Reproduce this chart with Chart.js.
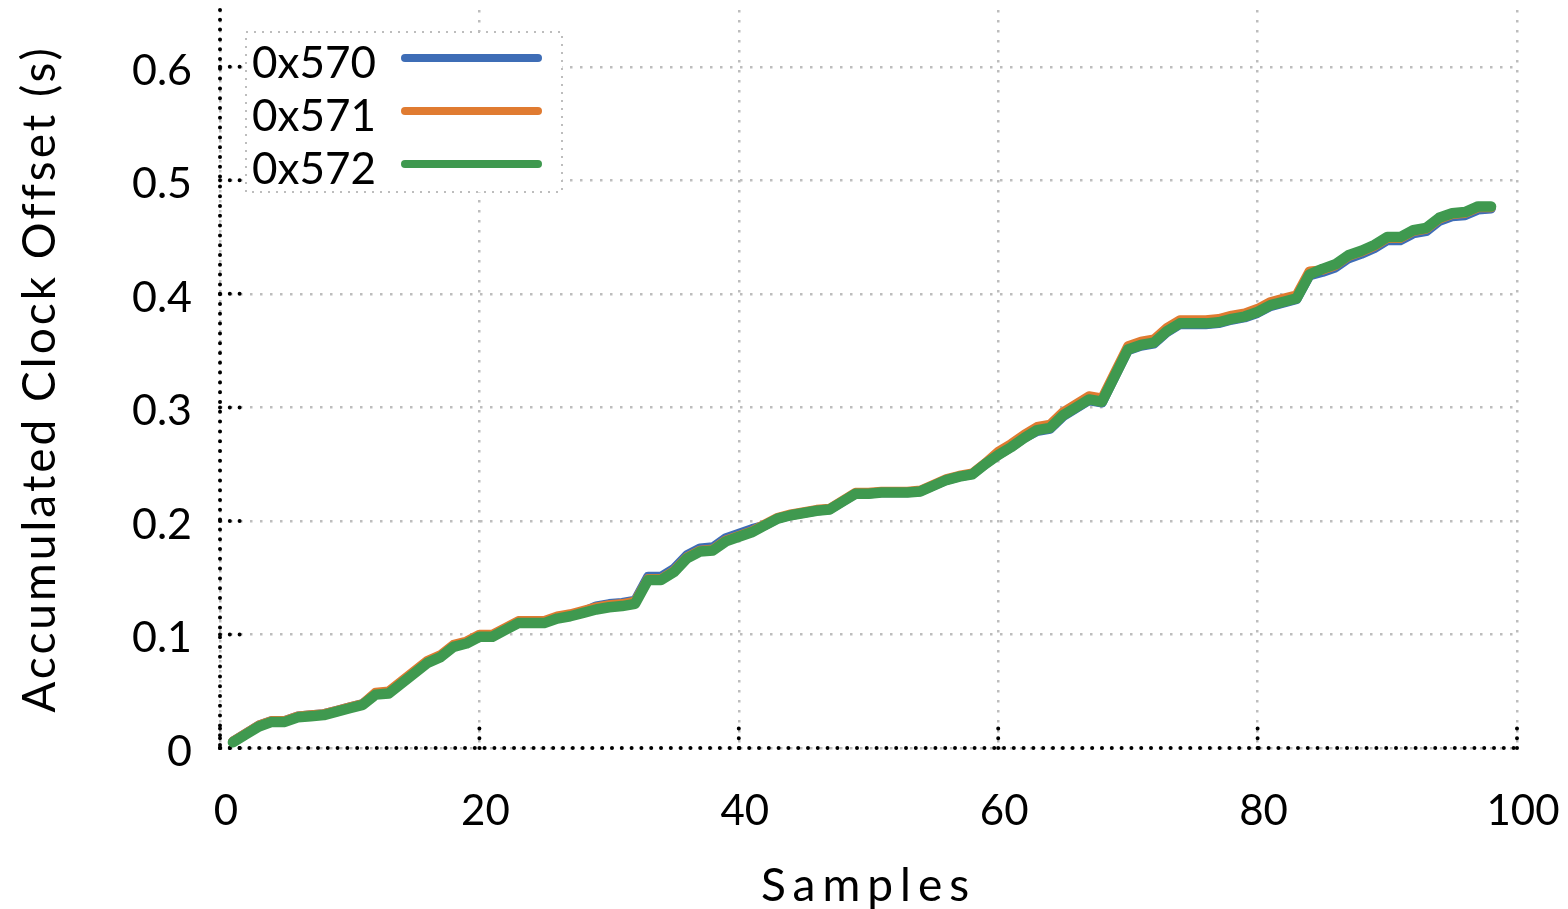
<!DOCTYPE html>
<html><head><meta charset="utf-8">
<script src="https://cdn.jsdelivr.net/npm/chart.js@4.4.0/dist/chart.umd.min.js"></script>
<style>html,body{margin:0;padding:0;background:#fff;}#wrap{width:1568px;height:909px;}</style>
</head><body><div id="wrap"><canvas id="c" width="1568" height="909"></canvas></div>
<script>
const samples = [1,2,3,4,5,6,7,8,9,10,11,12,13,14,15,16,17,18,19,20,21,22,23,24,25,26,27,28,29,30,31,32,33,34,35,36,37,38,39,40,41,42,43,44,45,46,47,48,49,50,51,52,53,54,55,56,57,58,59,60,61,62,63,64,65,66,67,68,69,70,71,72,73,74,75,76,77,78,79,80,81,82,83,84,85,86,87,88,89,90,91,92,93,94,95,96,97,98];
const series570 = [
0.006,0.013,0.020,0.024,0.024,0.028,0.029,0.030,0.033,0.036,
0.039,0.048,0.049,0.058,0.067,0.076,0.081,0.090,0.093,0.099,
0.099,0.105,0.111,0.111,0.111,0.115,0.117,0.120,0.125,0.127,
0.128,0.130,0.151,0.151,0.158,0.170,0.176,0.177,0.185,0.189,
0.193,0.196,0.202,0.205,0.207,0.209,0.210,0.217,0.224,0.224,
0.225,0.225,0.225,0.226,0.231,0.236,0.239,0.241,0.250,0.258,
0.265,0.273,0.279,0.281,0.292,0.299,0.306,0.304,0.327,0.350,
0.354,0.356,0.366,0.373,0.373,0.373,0.374,0.377,0.379,0.383,
0.389,0.392,0.395,0.416,0.419,0.423,0.431,0.435,0.440,0.447,
0.447,0.453,0.455,0.464,0.468,0.469,0.474,0.475];
const series571 = [
0.006,0.013,0.020,0.024,0.024,0.028,0.029,0.030,0.033,0.036,
0.039,0.049,0.050,0.059,0.068,0.077,0.082,0.091,0.094,0.100,
0.100,0.106,0.112,0.112,0.112,0.116,0.118,0.121,0.124,0.126,
0.127,0.129,0.149,0.149,0.156,0.168,0.174,0.175,0.183,0.187,
0.191,0.197,0.203,0.206,0.208,0.210,0.211,0.218,0.225,0.225,
0.226,0.226,0.226,0.227,0.232,0.237,0.240,0.242,0.251,0.261,
0.268,0.276,0.283,0.285,0.296,0.303,0.310,0.308,0.331,0.354,
0.358,0.360,0.370,0.377,0.377,0.377,0.378,0.381,0.383,0.387,
0.393,0.396,0.399,0.420,0.421,0.425,0.433,0.437,0.442,0.449,
0.449,0.455,0.457,0.466,0.470,0.471,0.476,0.476];
const series572 = [
0.005,0.012,0.019,0.023,0.023,0.027,0.028,0.029,0.032,0.035,
0.038,0.047,0.048,0.057,0.066,0.075,0.080,0.089,0.092,0.098,
0.098,0.104,0.110,0.110,0.110,0.114,0.116,0.119,0.122,0.124,
0.125,0.127,0.148,0.148,0.155,0.167,0.173,0.174,0.182,0.186,
0.190,0.196,0.202,0.205,0.207,0.209,0.210,0.217,0.224,0.224,
0.225,0.225,0.225,0.226,0.231,0.236,0.239,0.241,0.250,0.258,
0.265,0.273,0.280,0.282,0.293,0.300,0.307,0.305,0.328,0.351,
0.355,0.357,0.367,0.374,0.374,0.374,0.375,0.378,0.380,0.384,
0.390,0.393,0.396,0.417,0.422,0.426,0.434,0.438,0.443,0.450,
0.450,0.456,0.458,0.467,0.471,0.472,0.477,0.477];
const seriesNames = ['0x570','0x571','0x572'];
const seriesColors = ['#3e6db6','#e07b31','#3f994f'];
const xTicks = [0,20,40,60,80,100];
const yTicks = [0,0.1,0.2,0.3,0.4,0.5,0.6];
const xTitle = 'Samples';
const yTitle = 'Accumulated Clock Offset (s)';

const FONT = 'Lato';
const allSeries = [series570, series571, series572];

const datasets = allSeries.map((vals, i) => ({
  label: seriesNames[i],
  data: samples.map((s, j) => ({x: s, y: vals[j]})),
  borderColor: seriesColors[i],
  backgroundColor: seriesColors[i],
  borderWidth: i === 2 ? 10.5 : 9.5,
  pointRadius: 0,
  tension: 0,
  borderCapStyle: 'round',
  borderJoinStyle: 'round',
  order: 2 - i
}));

const spacingPlugin = {
  id: 'spacing',
  beforeDraw(chart) {
    [['x', '7px'], ['y', '3px']].forEach(([id, sp]) => {
      const s = chart.scales[id];
      if (s && !s._spPatched) {
        const orig = s.drawTitle.bind(s);
        s.drawTitle = function () {
          const ctx = this.ctx;
          ctx.save();
          ctx.letterSpacing = sp;
          orig();
          ctx.restore();
        };
        s._spPatched = true;
      }
    });
  }
};

const framePlugin = {
  id: 'frame',
  beforeDatasetsDraw(chart) {
    const {ctx, chartArea: ca, scales: {x, y}} = chart;
    ctx.save();
    ctx.strokeStyle = '#000';
    ctx.lineWidth = 4;
    ctx.lineCap = 'round';
    ctx.setLineDash([0, 9.8]);
    ctx.beginPath();
    ctx.moveTo(ca.left, ca.top);
    ctx.lineTo(ca.left, ca.bottom);
    ctx.stroke();
    ctx.beginPath();
    ctx.moveTo(ca.left, ca.bottom);
    ctx.lineTo(ca.right, ca.bottom);
    ctx.stroke();
    yTicks.forEach(v => {
      const py = y.getPixelForValue(v);
      ctx.beginPath(); ctx.moveTo(ca.left, py); ctx.lineTo(ca.left + 22, py); ctx.stroke();
    });
    xTicks.forEach(v => {
      const px = x.getPixelForValue(v);
      ctx.beginPath(); ctx.moveTo(px, ca.bottom); ctx.lineTo(px, ca.bottom - 22); ctx.stroke();
    });
    ctx.restore();
  }
};

const legendPlugin = {
  id: 'boxLegend',
  afterDatasetsDraw(chart) {
    const {ctx, chartArea: ca} = chart;
    const bx = ca.left + 26, by = ca.top + 22, bw = 316, bh = 160;
    ctx.save();
    ctx.fillStyle = '#fff';
    ctx.fillRect(bx, by, bw, bh);
    ctx.strokeStyle = '#bdbdbd';
    ctx.lineWidth = 2;
    ctx.setLineDash([2, 6]);
    ctx.strokeRect(bx, by, bw, bh);
    ctx.setLineDash([]);
    chart.data.datasets.forEach((ds, i) => {
      const base = by + 46 + i * 53;
      ctx.fillStyle = '#000';
      ctx.font = '44px ' + FONT;
      ctx.textBaseline = 'alphabetic';
      ctx.textAlign = 'left';
      ctx.fillText(ds.label, bx + 6, base);
      ctx.strokeStyle = ds.borderColor;
      ctx.lineWidth = 8;
      ctx.lineCap = 'round';
      ctx.beginPath();
      ctx.moveTo(bx + 159, base - 20);
      ctx.lineTo(bx + 292, base - 20);
      ctx.stroke();
    });
    ctx.restore();
  }
};

function zeroPad(s) { s.paddingLeft = 0; s.paddingRight = 0; s.paddingTop = 0; s.paddingBottom = 0; }

new Chart(document.getElementById('c'), {
  type: 'line',
  data: {datasets},
  plugins: [spacingPlugin, framePlugin, legendPlugin],
  options: {
    responsive: false,
    animation: false,
    devicePixelRatio: 1,
    layout: {padding: {left: 0, right: 51, top: 10, bottom: 0}},
    plugins: {legend: {display: false}, tooltip: {enabled: false}},
    scales: {
      x: {
        type: 'linear', min: 0, max: 100,
        afterBuildTicks: s => { s.ticks = xTicks.map(v => ({value: v})); },
        afterFit: s => { s.height = 161; zeroPad(s); },
        grid: {color: '#bdbdbd', lineWidth: 2.5, drawTicks: false},
        border: {display: false, dash: [2.5, 7.5]},
        ticks: {color: '#000', font: {family: FONT, size: 42}, padding: 38, labelOffset: 6, maxRotation: 0},
        title: {display: true, text: xTitle, color: '#000', font: {family: FONT, size: 46, lineHeight: 1}, padding: {top: 0, bottom: 0}}
      },
      y: {
        type: 'linear', min: 0, max: 0.65,
        afterBuildTicks: s => { s.ticks = yTicks.map(v => ({value: v})); },
        afterFit: s => { s.width = 220; zeroPad(s); },
        grid: {color: '#bdbdbd', lineWidth: 2.5, drawTicks: false},
        border: {display: false, dash: [2.5, 7.5]},
        ticks: {color: '#000', font: {family: FONT, size: 43}, padding: 28, labelOffset: 4,
          callback: v => String(Math.round(v * 10) / 10)},
        title: {display: true, text: yTitle, color: '#000', font: {family: FONT, size: 46, lineHeight: 1}, padding: {top: 17, bottom: 0}}
      }
    }
  }
});
</script>
</body></html>
